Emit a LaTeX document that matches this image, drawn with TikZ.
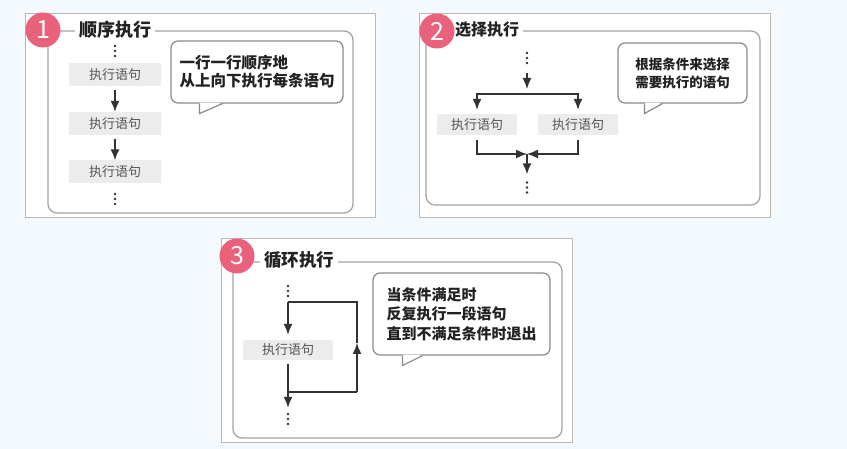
\documentclass[tikz,border=0pt]{standalone}
\usepackage{fontspec}
\setmainfont{Noto Sans CJK SC}
\usetikzlibrary{arrows.meta,calc}
\definecolor{bgc}{HTML}{F3F9FD}
\definecolor{panelc}{HTML}{B8B8B8}
\definecolor{framec}{HTML}{A4A4A4}
\definecolor{badgec}{HTML}{E9617A}
\definecolor{stmtc}{HTML}{ECECEC}
\definecolor{stmttext}{HTML}{555555}
\definecolor{bubc}{HTML}{8A8A8A}
\definecolor{arrc}{HTML}{333333}
\definecolor{titlec}{HTML}{222222}
\begin{document}
\begin{tikzpicture}[x=1pt,y=-1pt,
  panel/.style={draw=panelc,fill=white,line width=0.8pt},
  frame/.style={draw=framec,line width=1.3pt,rounded corners=9pt},
  badge/.style={circle,fill=badgec,text=white,minimum size=35pt,inner sep=0pt,font=\fontsize{25}{25}\selectfont},
  ttl/.style={fill=white,inner sep=4pt,text=titlec,anchor=west},
  stmt/.style={fill=stmtc,text=stmttext,inner sep=0pt,font=\fontsize{13}{13}\selectfont},
  bubble/.style={draw=bubc,fill=white,line width=1.2pt,rounded corners=7pt,inner sep=0pt,text=titlec},
  tailline/.style={draw=bubc,line width=1.2pt,line join=miter},
  arr/.style={draw=arrc,line width=1.5pt,-{Latex[length=11pt,width=9pt]}},
  plain/.style={draw=arrc,line width=1.5pt},
  dotsn/.style={minimum width=4pt,minimum height=14pt,inner sep=0pt,
    path picture={\fill[arrc] (path picture bounding box.center) circle (1.3pt) ++(0,5) circle (1.3pt) ++(0,-10) circle (1.3pt);}}
]
\fill[bgc] (0,0) rectangle (847,449);
\useasboundingbox (0,0) rectangle (847,449);

% ---------- Panel 1 ----------
\draw[panel] (25,13) rectangle (375,217);
\draw[frame] (48,31) rectangle (353,213);
\node[ttl,font=\bfseries\fontsize{18}{20}\selectfont] (t1) at (75,30) {顺序执行};
\node[badge] (n1) at (43,30) {1};
\node[dotsn] (d1a) at (115,51) {};
\node[stmt,minimum width=92pt,minimum height=23pt] (a1) at (115,74.5) {执行语句};
\node[stmt,minimum width=92pt,minimum height=23pt] (a2) at (115,123.5) {执行语句};
\node[stmt,minimum width=92pt,minimum height=23pt] (a3) at (115,172) {执行语句};
\node[dotsn] (d1b) at (115,199) {};
\draw[arr,shorten <=4pt] (a1) -- (a2);
\draw[arr,shorten <=4pt] (a2) -- (a3);
\node[bubble,minimum width=172pt,minimum height=62pt,align=left,
  font=\bfseries\fontsize{15.5}{18}\selectfont] (bub1) at (257,72) {一行一行顺序地\\从上向下执行每条语句};
\coordinate (b1A) at ([xshift=29pt]bub1.south west);
\coordinate (b1T) at ([xshift=29pt,yshift=-10pt]bub1.south west);
\coordinate (b1B) at ([xshift=52pt]bub1.south west);
\fill[white] ([xshift=0.6pt,yshift=1pt]b1A) -- (b1T) -- ([xshift=-1pt,yshift=1pt]b1B) -- cycle;
\draw[tailline] (b1A) -- (b1T) -- (b1B);

% ---------- Panel 2 ----------
\draw[panel] (419,13) rectangle (770,217);
\draw[frame] (426,31) rectangle (760,205);
\node[ttl,font=\bfseries\fontsize{16}{18}\selectfont] (t2) at (451,30) {选择执行};
\node[badge] (n2) at (437,31) {2};
\node[dotsn] (d2a) at (527,58) {};
\coordinate (fork) at (527,94);
\node[stmt,minimum width=80pt,minimum height=21pt] (c1) at (477,124.5) {执行语句};
\node[stmt,minimum width=80pt,minimum height=21pt] (c2) at (578,124.5) {执行语句};
\coordinate (join) at (527,154);
\node[dotsn] (d2b) at (527,187.5) {};
\draw[arr,shorten <=8pt,shorten >=5pt] (d2a) -- (fork);
\draw[arr,shorten >=4pt] (fork) -| (c1.north);
\draw[arr,shorten >=4pt] (fork) -| (c2.north);
\draw[arr,shorten <=5pt] (c1.south) |- (join);
\draw[arr,shorten <=5pt] (c2.south) |- (join);
\draw[arr,shorten >=6pt] (join) -- (d2b.north);
\node[bubble,minimum width=129pt,minimum height=60pt,align=center,
  font=\bfseries\fontsize{13.5}{18}\selectfont] (bub2) at (682.5,73) {根据条件来选择\\需要执行的语句};
\coordinate (b2A) at ([xshift=27pt]bub2.south west);
\coordinate (b2T) at ([xshift=27pt,yshift=-10pt]bub2.south west);
\coordinate (b2B) at ([xshift=45pt]bub2.south west);
\fill[white] ([xshift=0.6pt,yshift=1pt]b2A) -- (b2T) -- ([xshift=-1pt,yshift=1pt]b2B) -- cycle;
\draw[tailline] (b2A) -- (b2T) -- (b2B);

% ---------- Panel 3 ----------
\draw[panel] (221,238) rectangle (572,442);
\draw[frame] (233,262) rectangle (562,438);
\node[ttl,font=\bfseries\fontsize{17.5}{20}\selectfont] (t3) at (260,260) {循环执行};
\node[badge] (n3) at (237,256) {3};
\node[dotsn] (d3a) at (288,291) {};
\coordinate (lt) at (288,302);
\coordinate (rt) at (357,302);
\coordinate (rb) at (357,392);
\coordinate (lb) at (288,392);
\coordinate (up) at (357,343);
\node[stmt,minimum width=90pt,minimum height=20pt] (e1) at (288,350) {执行语句};
\node[dotsn] (d3b) at (288,419) {};
\draw[plain] (up) -- (rt) -- (lt);
\draw[arr] (rb) -- (up);
\draw[arr,shorten >=5pt] (lt) -- (e1.north);
\draw[arr,shorten <=4pt,shorten >=4pt] (e1.south) -- (d3b.north);
\draw[plain] (lb) -- (rb);
\node[bubble,minimum width=177pt,minimum height=82pt,align=left,
  font=\bfseries\fontsize{15}{19.5}\selectfont] (bub3) at (461.5,314) {当条件满足时\\反复执行一段语句\\直到不满足条件时退出};
\coordinate (b3A) at ([xshift=30pt]bub3.south west);
\coordinate (b3T) at ([xshift=30pt,yshift=-10pt]bub3.south west);
\coordinate (b3B) at ([xshift=50pt]bub3.south west);
\fill[white] ([xshift=0.6pt,yshift=1pt]b3A) -- (b3T) -- ([xshift=-1pt,yshift=1pt]b3B) -- cycle;
\draw[tailline] (b3A) -- (b3T) -- (b3B);
\end{tikzpicture}
\end{document}
